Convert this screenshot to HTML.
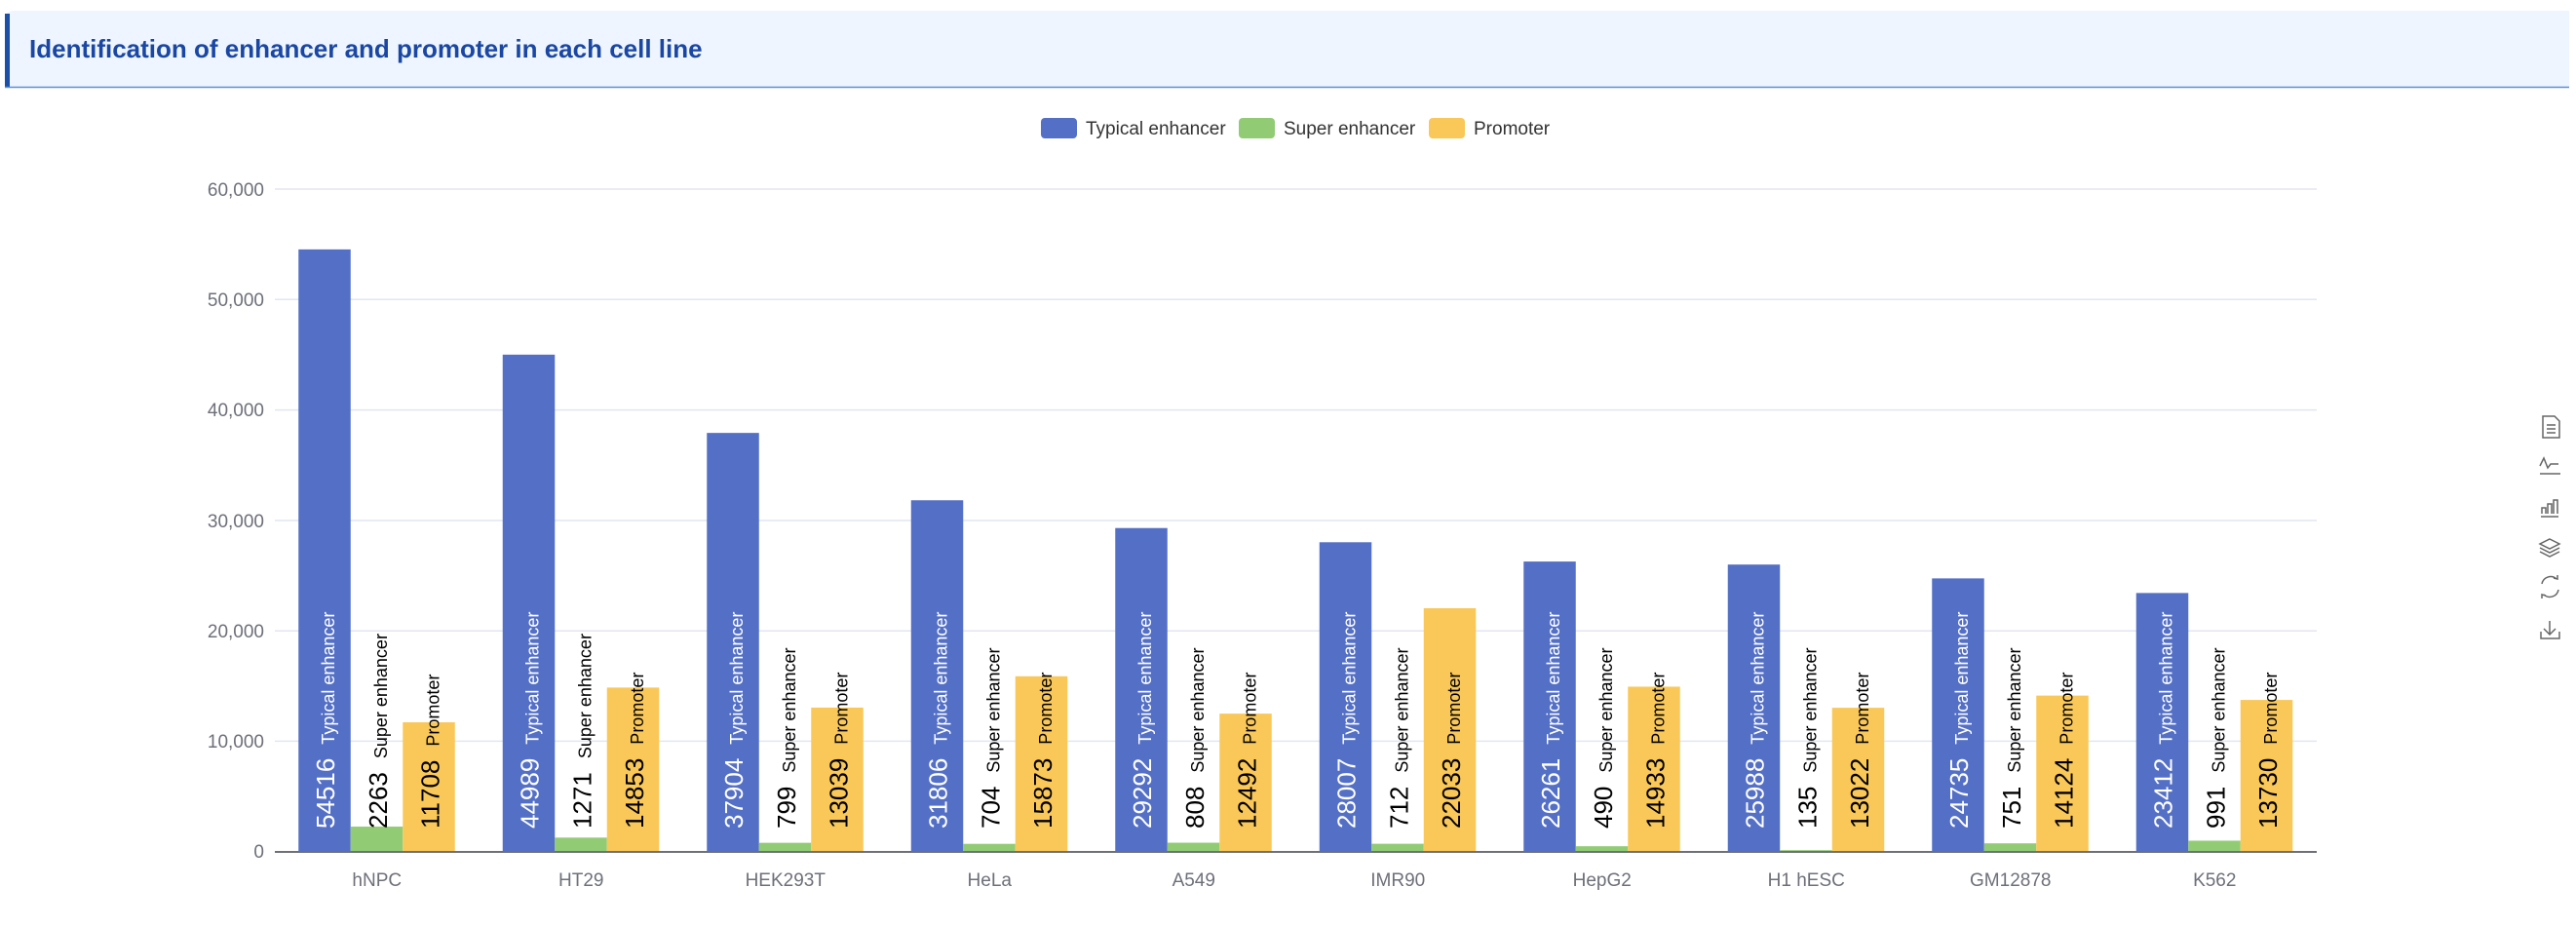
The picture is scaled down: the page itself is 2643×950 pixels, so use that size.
<!DOCTYPE html>
<html><head><meta charset="utf-8"><style>
html,body{margin:0;padding:0;background:#fff;width:2643px;height:950px;overflow:hidden;font-family:"Liberation Sans",sans-serif}
</style></head><body>
<svg width="2643" height="950" xmlns="http://www.w3.org/2000/svg" font-family="Liberation Sans, sans-serif">
<path d="M5,89 V20 Q5,11 14,11 H2636 V89 Z" fill="#eef5fe"/>
<rect x="5" y="14" width="5" height="76" fill="#1c4fa8"/>
<line x1="5" y1="89.5" x2="2636" y2="89.5" stroke="#5b8fd6" stroke-width="1.5"/>
<text x="30" y="59" font-size="26" font-weight="bold" fill="#1a47a3">Identification of enhancer and promoter in each cell line</text>

<g font-size="19" fill="#333">
<rect x="1068" y="121" width="37" height="21" rx="4" fill="#5470c6"/><text x="1114" y="138">Typical enhancer</text>
<rect x="1271" y="121" width="37" height="21" rx="4" fill="#91cc75"/><text x="1317" y="138">Super enhancer</text>
<rect x="1466" y="121" width="37" height="21" rx="4" fill="#fac858"/><text x="1512" y="138">Promoter</text>
</g>

<g stroke="#e0e6f1" stroke-width="1.5">
<line x1="282" y1="194" x2="2377" y2="194"/><line x1="282" y1="307.3" x2="2377" y2="307.3"/>
<line x1="282" y1="420.6" x2="2377" y2="420.6"/><line x1="282" y1="534" x2="2377" y2="534"/>
<line x1="282" y1="647.3" x2="2377" y2="647.3"/><line x1="282" y1="760.4" x2="2377" y2="760.4"/>
</g>
<g font-size="19" fill="#6e7079" text-anchor="end">
<text x="271" y="201">60,000</text><text x="271" y="314">50,000</text><text x="271" y="427">40,000</text>
<text x="271" y="541">30,000</text><text x="271" y="654">20,000</text><text x="271" y="767">10,000</text><text x="271" y="880">0</text>
</g>

<g transform="translate(0,873.7) scale(1,-0.011333)">
<g transform="translate(386.75,0)"><rect x="-80.5" y="0" width="53.5" height="54516" fill="#5470c6"/><rect x="-27" y="0" width="53.5" height="2263" fill="#91cc75"/><rect x="26.5" y="0" width="53.5" height="11708" fill="#fac858"/></g>
<g transform="translate(596.25,0)"><rect x="-80.5" y="0" width="53.5" height="44989" fill="#5470c6"/><rect x="-27" y="0" width="53.5" height="1271" fill="#91cc75"/><rect x="26.5" y="0" width="53.5" height="14853" fill="#fac858"/></g>
<g transform="translate(805.75,0)"><rect x="-80.5" y="0" width="53.5" height="37904" fill="#5470c6"/><rect x="-27" y="0" width="53.5" height="799" fill="#91cc75"/><rect x="26.5" y="0" width="53.5" height="13039" fill="#fac858"/></g>
<g transform="translate(1015.25,0)"><rect x="-80.5" y="0" width="53.5" height="31806" fill="#5470c6"/><rect x="-27" y="0" width="53.5" height="704" fill="#91cc75"/><rect x="26.5" y="0" width="53.5" height="15873" fill="#fac858"/></g>
<g transform="translate(1224.75,0)"><rect x="-80.5" y="0" width="53.5" height="29292" fill="#5470c6"/><rect x="-27" y="0" width="53.5" height="808" fill="#91cc75"/><rect x="26.5" y="0" width="53.5" height="12492" fill="#fac858"/></g>
<g transform="translate(1434.25,0)"><rect x="-80.5" y="0" width="53.5" height="28007" fill="#5470c6"/><rect x="-27" y="0" width="53.5" height="712" fill="#91cc75"/><rect x="26.5" y="0" width="53.5" height="22033" fill="#fac858"/></g>
<g transform="translate(1643.75,0)"><rect x="-80.5" y="0" width="53.5" height="26261" fill="#5470c6"/><rect x="-27" y="0" width="53.5" height="490" fill="#91cc75"/><rect x="26.5" y="0" width="53.5" height="14933" fill="#fac858"/></g>
<g transform="translate(1853.25,0)"><rect x="-80.5" y="0" width="53.5" height="25988" fill="#5470c6"/><rect x="-27" y="0" width="53.5" height="135" fill="#91cc75"/><rect x="26.5" y="0" width="53.5" height="13022" fill="#fac858"/></g>
<g transform="translate(2062.75,0)"><rect x="-80.5" y="0" width="53.5" height="24735" fill="#5470c6"/><rect x="-27" y="0" width="53.5" height="751" fill="#91cc75"/><rect x="26.5" y="0" width="53.5" height="14124" fill="#fac858"/></g>
<g transform="translate(2272.25,0)"><rect x="-80.5" y="0" width="53.5" height="23412" fill="#5470c6"/><rect x="-27" y="0" width="53.5" height="991" fill="#91cc75"/><rect x="26.5" y="0" width="53.5" height="13730" fill="#fac858"/></g>
</g>

<line x1="282" y1="874" x2="2377" y2="874" stroke="#6e7079" stroke-width="2"/>

<g font-size="18">
<g transform="translate(386.75,0)"><text transform="translate(-44,850) rotate(-90)" fill="#fff"><tspan font-size="26">54516</tspan><tspan dx="14">Typical enhancer</tspan></text><text transform="translate(10,850) rotate(-90)" fill="#000"><tspan font-size="26">2263</tspan><tspan dx="14">Super enhancer</tspan></text><text transform="translate(63.5,850) rotate(-90)" fill="#000"><tspan font-size="26">11708</tspan><tspan dx="14">Promoter</tspan></text></g>
<g transform="translate(596.25,0)"><text transform="translate(-44,850) rotate(-90)" fill="#fff"><tspan font-size="26">44989</tspan><tspan dx="14">Typical enhancer</tspan></text><text transform="translate(10,850) rotate(-90)" fill="#000"><tspan font-size="26">1271</tspan><tspan dx="14">Super enhancer</tspan></text><text transform="translate(63.5,850) rotate(-90)" fill="#000"><tspan font-size="26">14853</tspan><tspan dx="14">Promoter</tspan></text></g>
<g transform="translate(805.75,0)"><text transform="translate(-44,850) rotate(-90)" fill="#fff"><tspan font-size="26">37904</tspan><tspan dx="14">Typical enhancer</tspan></text><text transform="translate(10,850) rotate(-90)" fill="#000"><tspan font-size="26">799</tspan><tspan dx="14">Super enhancer</tspan></text><text transform="translate(63.5,850) rotate(-90)" fill="#000"><tspan font-size="26">13039</tspan><tspan dx="14">Promoter</tspan></text></g>
<g transform="translate(1015.25,0)"><text transform="translate(-44,850) rotate(-90)" fill="#fff"><tspan font-size="26">31806</tspan><tspan dx="14">Typical enhancer</tspan></text><text transform="translate(10,850) rotate(-90)" fill="#000"><tspan font-size="26">704</tspan><tspan dx="14">Super enhancer</tspan></text><text transform="translate(63.5,850) rotate(-90)" fill="#000"><tspan font-size="26">15873</tspan><tspan dx="14">Promoter</tspan></text></g>
<g transform="translate(1224.75,0)"><text transform="translate(-44,850) rotate(-90)" fill="#fff"><tspan font-size="26">29292</tspan><tspan dx="14">Typical enhancer</tspan></text><text transform="translate(10,850) rotate(-90)" fill="#000"><tspan font-size="26">808</tspan><tspan dx="14">Super enhancer</tspan></text><text transform="translate(63.5,850) rotate(-90)" fill="#000"><tspan font-size="26">12492</tspan><tspan dx="14">Promoter</tspan></text></g>
<g transform="translate(1434.25,0)"><text transform="translate(-44,850) rotate(-90)" fill="#fff"><tspan font-size="26">28007</tspan><tspan dx="14">Typical enhancer</tspan></text><text transform="translate(10,850) rotate(-90)" fill="#000"><tspan font-size="26">712</tspan><tspan dx="14">Super enhancer</tspan></text><text transform="translate(63.5,850) rotate(-90)" fill="#000"><tspan font-size="26">22033</tspan><tspan dx="14">Promoter</tspan></text></g>
<g transform="translate(1643.75,0)"><text transform="translate(-44,850) rotate(-90)" fill="#fff"><tspan font-size="26">26261</tspan><tspan dx="14">Typical enhancer</tspan></text><text transform="translate(10,850) rotate(-90)" fill="#000"><tspan font-size="26">490</tspan><tspan dx="14">Super enhancer</tspan></text><text transform="translate(63.5,850) rotate(-90)" fill="#000"><tspan font-size="26">14933</tspan><tspan dx="14">Promoter</tspan></text></g>
<g transform="translate(1853.25,0)"><text transform="translate(-44,850) rotate(-90)" fill="#fff"><tspan font-size="26">25988</tspan><tspan dx="14">Typical enhancer</tspan></text><text transform="translate(10,850) rotate(-90)" fill="#000"><tspan font-size="26">135</tspan><tspan dx="14">Super enhancer</tspan></text><text transform="translate(63.5,850) rotate(-90)" fill="#000"><tspan font-size="26">13022</tspan><tspan dx="14">Promoter</tspan></text></g>
<g transform="translate(2062.75,0)"><text transform="translate(-44,850) rotate(-90)" fill="#fff"><tspan font-size="26">24735</tspan><tspan dx="14">Typical enhancer</tspan></text><text transform="translate(10,850) rotate(-90)" fill="#000"><tspan font-size="26">751</tspan><tspan dx="14">Super enhancer</tspan></text><text transform="translate(63.5,850) rotate(-90)" fill="#000"><tspan font-size="26">14124</tspan><tspan dx="14">Promoter</tspan></text></g>
<g transform="translate(2272.25,0)"><text transform="translate(-44,850) rotate(-90)" fill="#fff"><tspan font-size="26">23412</tspan><tspan dx="14">Typical enhancer</tspan></text><text transform="translate(10,850) rotate(-90)" fill="#000"><tspan font-size="26">991</tspan><tspan dx="14">Super enhancer</tspan></text><text transform="translate(63.5,850) rotate(-90)" fill="#000"><tspan font-size="26">13730</tspan><tspan dx="14">Promoter</tspan></text></g>
</g>

<g font-size="19" fill="#6e7079" text-anchor="middle">
<text x="386.75" y="909">hNPC</text><text x="596.25" y="909">HT29</text><text x="805.75" y="909">HEK293T</text>
<text x="1015.25" y="909">HeLa</text><text x="1224.75" y="909">A549</text><text x="1434.25" y="909">IMR90</text>
<text x="1643.75" y="909">HepG2</text><text x="1853.25" y="909">H1 hESC</text><text x="2062.75" y="909">GM12878</text>
<text x="2272.25" y="909">K562</text>
</g>

<g fill="none" stroke="#666" stroke-width="1.5">
<path d="M2609,427 h12 l5,5 v17 h-17 z M2613,436 h9 M2613,440 h9 M2613,444 h9"/>
<path d="M2606,478 l4,-8 l4,10 l3,-4 h8 M2606,486 h21"/>
<path d="M2608,527 v-6 h4 v6 M2614,527 v-10 h4 v10 M2620,527 v-14 h4 v14 M2607,530 h18"/>
<path d="M2616,553 l10,5 l-10,5 l-10,-5 z M2606,562 l10,5 l10,-5 M2606,566 l10,5 l10,-5"/>
<path d="M2608,599 a9,9 0 0 1 15,-5 M2625,605 a9,9 0 0 1 -15,5 M2620,593 l4,1 l0,-4 M2612,611 l-4,-1 l0,4"/>
<path d="M2616,637 v14 M2610,645 l6,6 l6,-6 M2607,648 v7 h19 v-7"/>
</g>
</svg>
</body></html>
